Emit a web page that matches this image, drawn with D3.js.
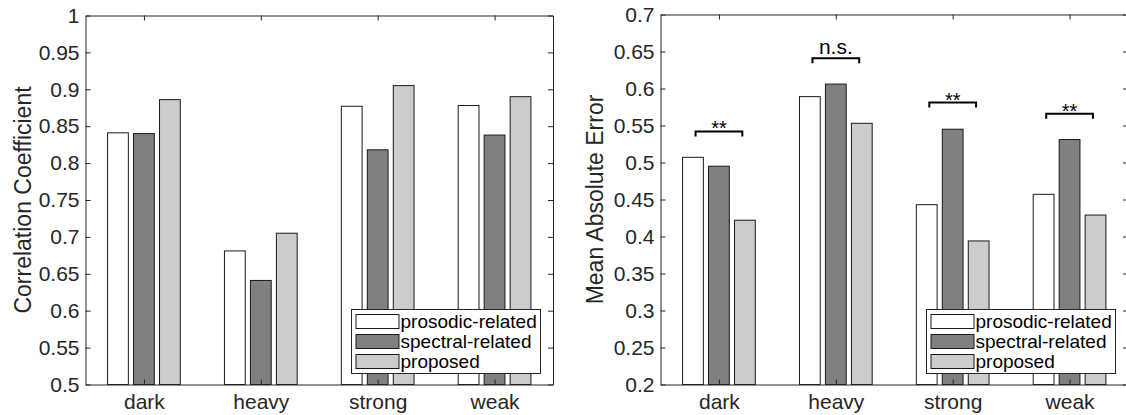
<!DOCTYPE html>
<html>
<head>
<meta charset="utf-8">
<script src="https://cdn.jsdelivr.net/npm/d3@7/dist/d3.min.js"></script>
<style>
  html, body { margin: 0; padding: 0; background: #fff; }
  svg { display: block; font-family: "Liberation Sans", Arial, Helvetica, sans-serif; }
</style>
</head>
<body>
<svg id="chart" width="1126" height="415"></svg>
<script>
// ---------- data ----------
const categories = ["dark", "heavy", "strong", "weak"];
const seriesNames = ["prosodic-related", "spectral-related", "proposed"];
const seriesColors = ["#ffffff", "#808080", "#cccccc"];

// Left panel: correlation coefficient
const corrProsodic = [0.841, 0.681, 0.877, 0.878];
const corrSpectral = [0.840, 0.641, 0.818, 0.838];
const corrProposed = [0.886, 0.705, 0.905, 0.890];
const corrTicks = [0.5, 0.55, 0.6, 0.65, 0.7, 0.75, 0.8, 0.85, 0.9, 0.95, 1];

// Right panel: mean absolute error
const maeProsodic = [0.507, 0.589, 0.443, 0.457];
const maeSpectral = [0.495, 0.606, 0.545, 0.531];
const maeProposed = [0.422, 0.553, 0.394, 0.429];
const maeTicks = [0.2, 0.25, 0.3, 0.35, 0.4, 0.45, 0.5, 0.55, 0.6, 0.65, 0.7];

// significance markers (right panel)
const sigLabels = ["**", "n.s.", "**", "**"];
const sigHeights = [0.542, 0.641, 0.581, 0.566];

// ---------- drawing ----------
const svg = d3.select("#chart");
const axisColor = "#262626";
const fmt = d => String(+d.toFixed(2));

function panel(opts) {
  const g = svg.append("g");
  const x = d3.scaleLinear().domain([0.5, 4.5]).range([opts.x0, opts.x1]);
  const y = d3.scaleLinear().domain(opts.yDomain).range([opts.bottom, opts.top]);
  const groupOffsets = [-2/9, 0, 2/9];
  const barW = (2/9) * 0.8;
  const series = opts.series;

  // bars
  series.forEach((vals, si) => {
    g.append("g").selectAll("rect").data(vals).join("rect")
      .attr("x", (d, i) => x(i + 1 + groupOffsets[si] - barW / 2))
      .attr("width", x(barW) - x(0))
      .attr("y", d => y(d))
      .attr("height", d => y(opts.yDomain[0]) - y(d))
      .attr("fill", seriesColors[si])
      .attr("stroke", "#1a1a1a")
      .attr("stroke-width", 1);
  });

  // axes (box with inward ticks)
  const tickLen = 5;
  const left = g.append("g").attr("transform", `translate(${opts.x0},0)`)
    .call(d3.axisLeft(y).tickValues(opts.ticks).tickFormat(fmt).tickSizeInner(-tickLen).tickSizeOuter(0).tickPadding(6));
  const right = g.append("g").attr("transform", `translate(${opts.x1},0)`)
    .call(d3.axisRight(y).tickValues(opts.ticks).tickFormat("").tickSizeInner(-tickLen).tickSizeOuter(0));
  const bottom = g.append("g").attr("transform", `translate(0,${opts.bottom})`)
    .call(d3.axisBottom(x).tickValues([1, 2, 3, 4]).tickFormat((d, i) => categories[i]).tickSizeInner(-tickLen).tickSizeOuter(0).tickPadding(10));
  const top = g.append("g").attr("transform", `translate(0,${opts.top})`)
    .call(d3.axisTop(x).tickValues([1, 2, 3, 4]).tickFormat("").tickSizeInner(-tickLen).tickSizeOuter(0));
  [left, right, bottom, top].forEach(a => {
    a.selectAll("path.domain").attr("stroke", axisColor).attr("stroke-width", 1);
    a.selectAll("line").attr("stroke", axisColor);
    a.selectAll("text").attr("fill", axisColor).attr("font-size", 21)
      .attr("font-family", "Liberation Sans, Arial, sans-serif");
  });
  bottom.selectAll("text").attr("dy", "0.71em");

  // y label
  g.append("text")
    .attr("transform", `translate(${opts.labelX},${(opts.top + opts.bottom) / 2}) rotate(-90)`)
    .attr("text-anchor", "middle")
    .attr("font-size", 23)
    .attr("fill", axisColor)
    .text(opts.ylabel);

  // legend
  const lg = g.append("g");
  lg.append("rect")
    .attr("x", opts.legX).attr("y", 309.5)
    .attr("width", 189).attr("height", 64)
    .attr("fill", "#fff").attr("stroke", axisColor).attr("stroke-width", 1);
  seriesNames.forEach((name, i) => {
    const ry = 314.5 + i * 20;
    lg.append("rect")
      .attr("x", opts.legX + 4.5).attr("y", ry)
      .attr("width", 43).attr("height", 14)
      .attr("fill", seriesColors[i]).attr("stroke", "#1a1a1a").attr("stroke-width", 1);
    lg.append("text")
      .attr("x", opts.legX + 49).attr("y", ry + 7)
      .attr("dy", "0.35em")
      .attr("font-size", 19)
      .attr("fill", "#000")
      .text(name);
  });

  return { g, x, y };
}

panel({
  x0: 85.5, x1: 553, top: 15.5, bottom: 384.5,
  yDomain: [0.5, 1], ticks: corrTicks,
  series: [corrProsodic, corrSpectral, corrProposed],
  ylabel: "Correlation Coefficient", labelX: 31,
  legX: 351.5
});

const right = panel({
  x0: 660.5, x1: 1128, top: 14.5, bottom: 384.5,
  yDomain: [0.2, 0.7], ticks: maeTicks,
  series: [maeProsodic, maeSpectral, maeProposed],
  ylabel: "Mean Absolute Error", labelX: 603,
  legX: 926.5
});

// significance brackets
const bg = right.g.append("g");
categories.forEach((c, i) => {
  const xl = right.x(i + 1 - 0.2), xr = right.x(i + 1 + 0.2);
  const yb = right.y(sigHeights[i]);
  bg.append("path")
    .attr("d", `M${xl},${yb + 5}V${yb}H${xr}V${yb + 5}`)
    .attr("fill", "none").attr("stroke", "#000").attr("stroke-width", 2);
  const isStar = sigLabels[i] === "**";
  bg.append("text")
    .attr("x", right.x(i + 1))
    .attr("y", isStar ? yb + 4 : yb - 4)
    .attr("text-anchor", "middle")
    .attr("font-size", isStar ? 20 : 21)
    .attr("fill", "#000")
    .text(sigLabels[i]);
});
</script>
</body>
</html>
